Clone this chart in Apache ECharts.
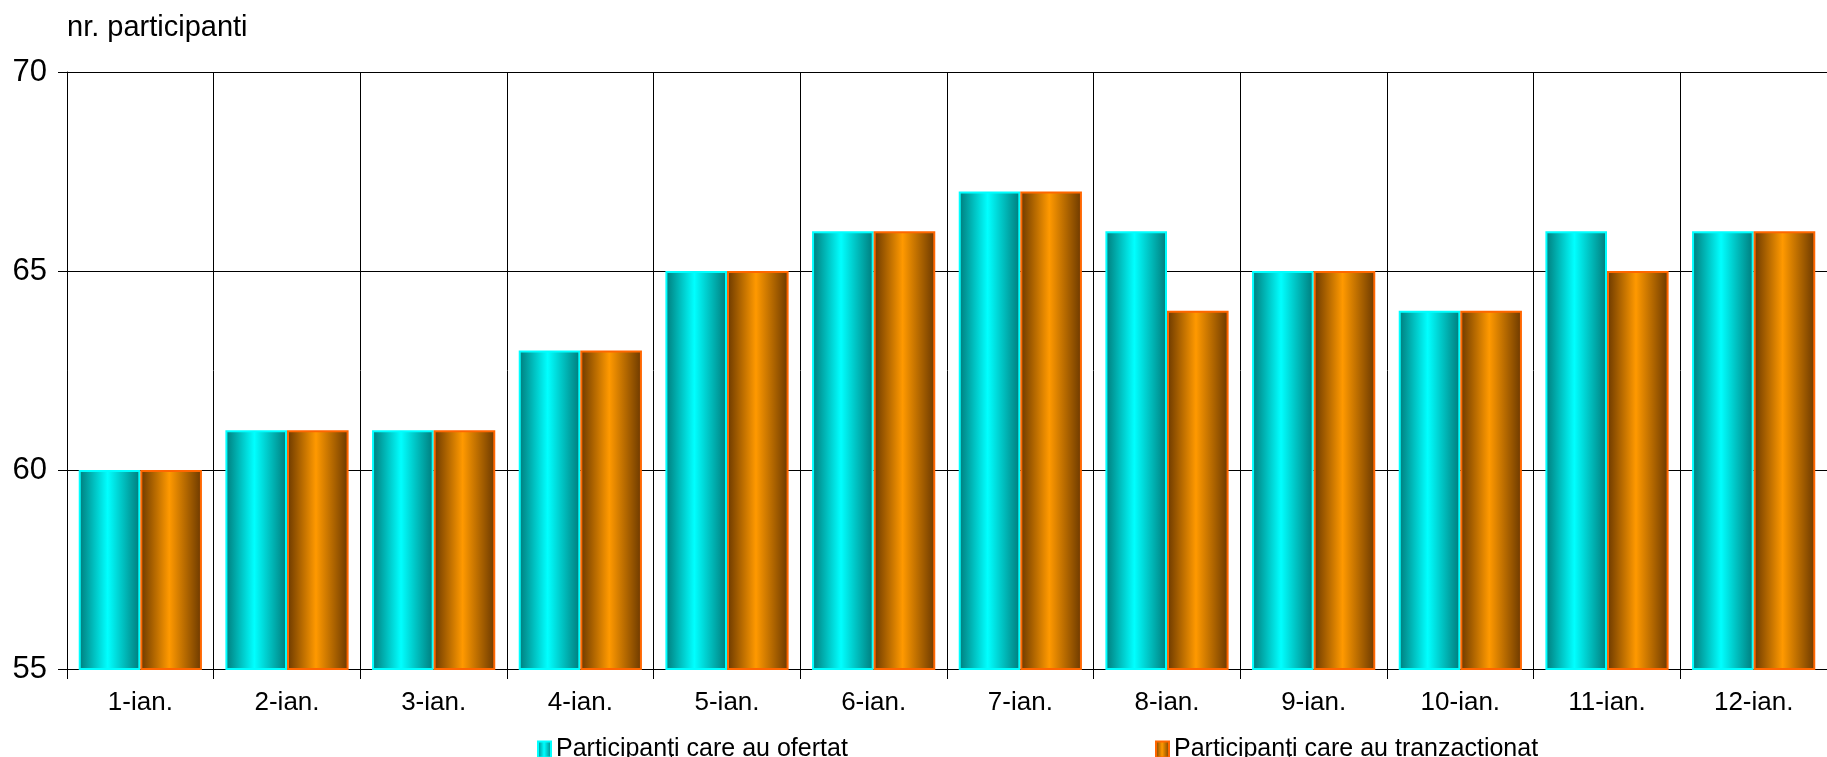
<!DOCTYPE html>
<html><head><meta charset="utf-8">
<script src="https://cdn.jsdelivr.net/npm/echarts@6/dist/echarts.min.js"></script>
<style>html,body{margin:0;padding:0;background:#fff}#c{width:1827px;height:757px}</style>
</head><body><div id="c"></div>
<script>
var categories = ['1-ian.','2-ian.','3-ian.','4-ian.','5-ian.','6-ian.','7-ian.','8-ian.','9-ian.','10-ian.','11-ian.','12-ian.'];
var ofertat = [60,61,61,63,65,66,67,66,65,64,66,66];
var tranzactionat = [60,61,61,63,65,66,67,64,65,64,65,66];
var seriesNames = ['Participanţi care au ofertat','Participanţi care au tranzactionat'];
var yTicks = {min:55, max:70, interval:5};

var font = 'Liberation Sans, Arial, sans-serif';
function grad(edge, mid){
  return new echarts.graphic.LinearGradient(0,0,1,0,[
    {offset:0,color:edge},{offset:0.47,color:mid},{offset:1,color:edge}]);
}
var legendText = {fontFamily:font,fontSize:25,color:'#000'};
var chart = echarts.init(document.getElementById('c'), null, {renderer:'canvas'});
chart.setOption({
  animation:false,
  backgroundColor:'#ffffff',
  title:{text:'nr. participanti',left:62,top:8,textStyle:{fontFamily:font,fontSize:29,fontWeight:'normal',color:'#000'}},
  legend:[
    {left:532, top:732, itemWidth:13, itemHeight:16, itemGap:6, icon:'rect', textStyle:legendText, data:[seriesNames[0]]},
    {left:1150, top:732, itemWidth:13, itemHeight:16, itemGap:6, icon:'rect', textStyle:legendText, data:[seriesNames[1]]}
  ],
  grid:{left:67,top:72,bottom:88,right:-13,containLabel:false},
  xAxis:{
    type:'category', data:categories, boundaryGap:true,
    axisLine:{show:true,lineStyle:{color:'#000',width:1}},
    axisTick:{show:true,length:10,lineStyle:{color:'#000'}},
    axisLabel:{fontFamily:font,fontSize:26,color:'#000',margin:21},
    splitLine:{show:true,lineStyle:{color:'#000',width:1}}
  },
  yAxis:{
    type:'value', min:yTicks.min, max:yTicks.max, interval:yTicks.interval,
    axisLine:{show:true,lineStyle:{color:'#000',width:1}},
    axisTick:{show:true,length:9,lineStyle:{color:'#000'}},
    axisLabel:{fontFamily:font,fontSize:31,color:'#000',margin:20},
    splitLine:{show:true,lineStyle:{color:'#000',width:1}}
  },
  series:[
    {name:seriesNames[0],type:'bar',data:ofertat,barGap:'0%',barCategoryGap:'16%',
     itemStyle:{color:grad('#007a7a','#00ffff'),borderColor:'#00ffff',borderWidth:2}},
    {name:seriesNames[1],type:'bar',data:tranzactionat,barGap:'0%',barCategoryGap:'16%',
     itemStyle:{color:grad('#6a3800','#ff9900'),borderColor:'#ff6600',borderWidth:2}}
  ]
});
</script></body></html>
